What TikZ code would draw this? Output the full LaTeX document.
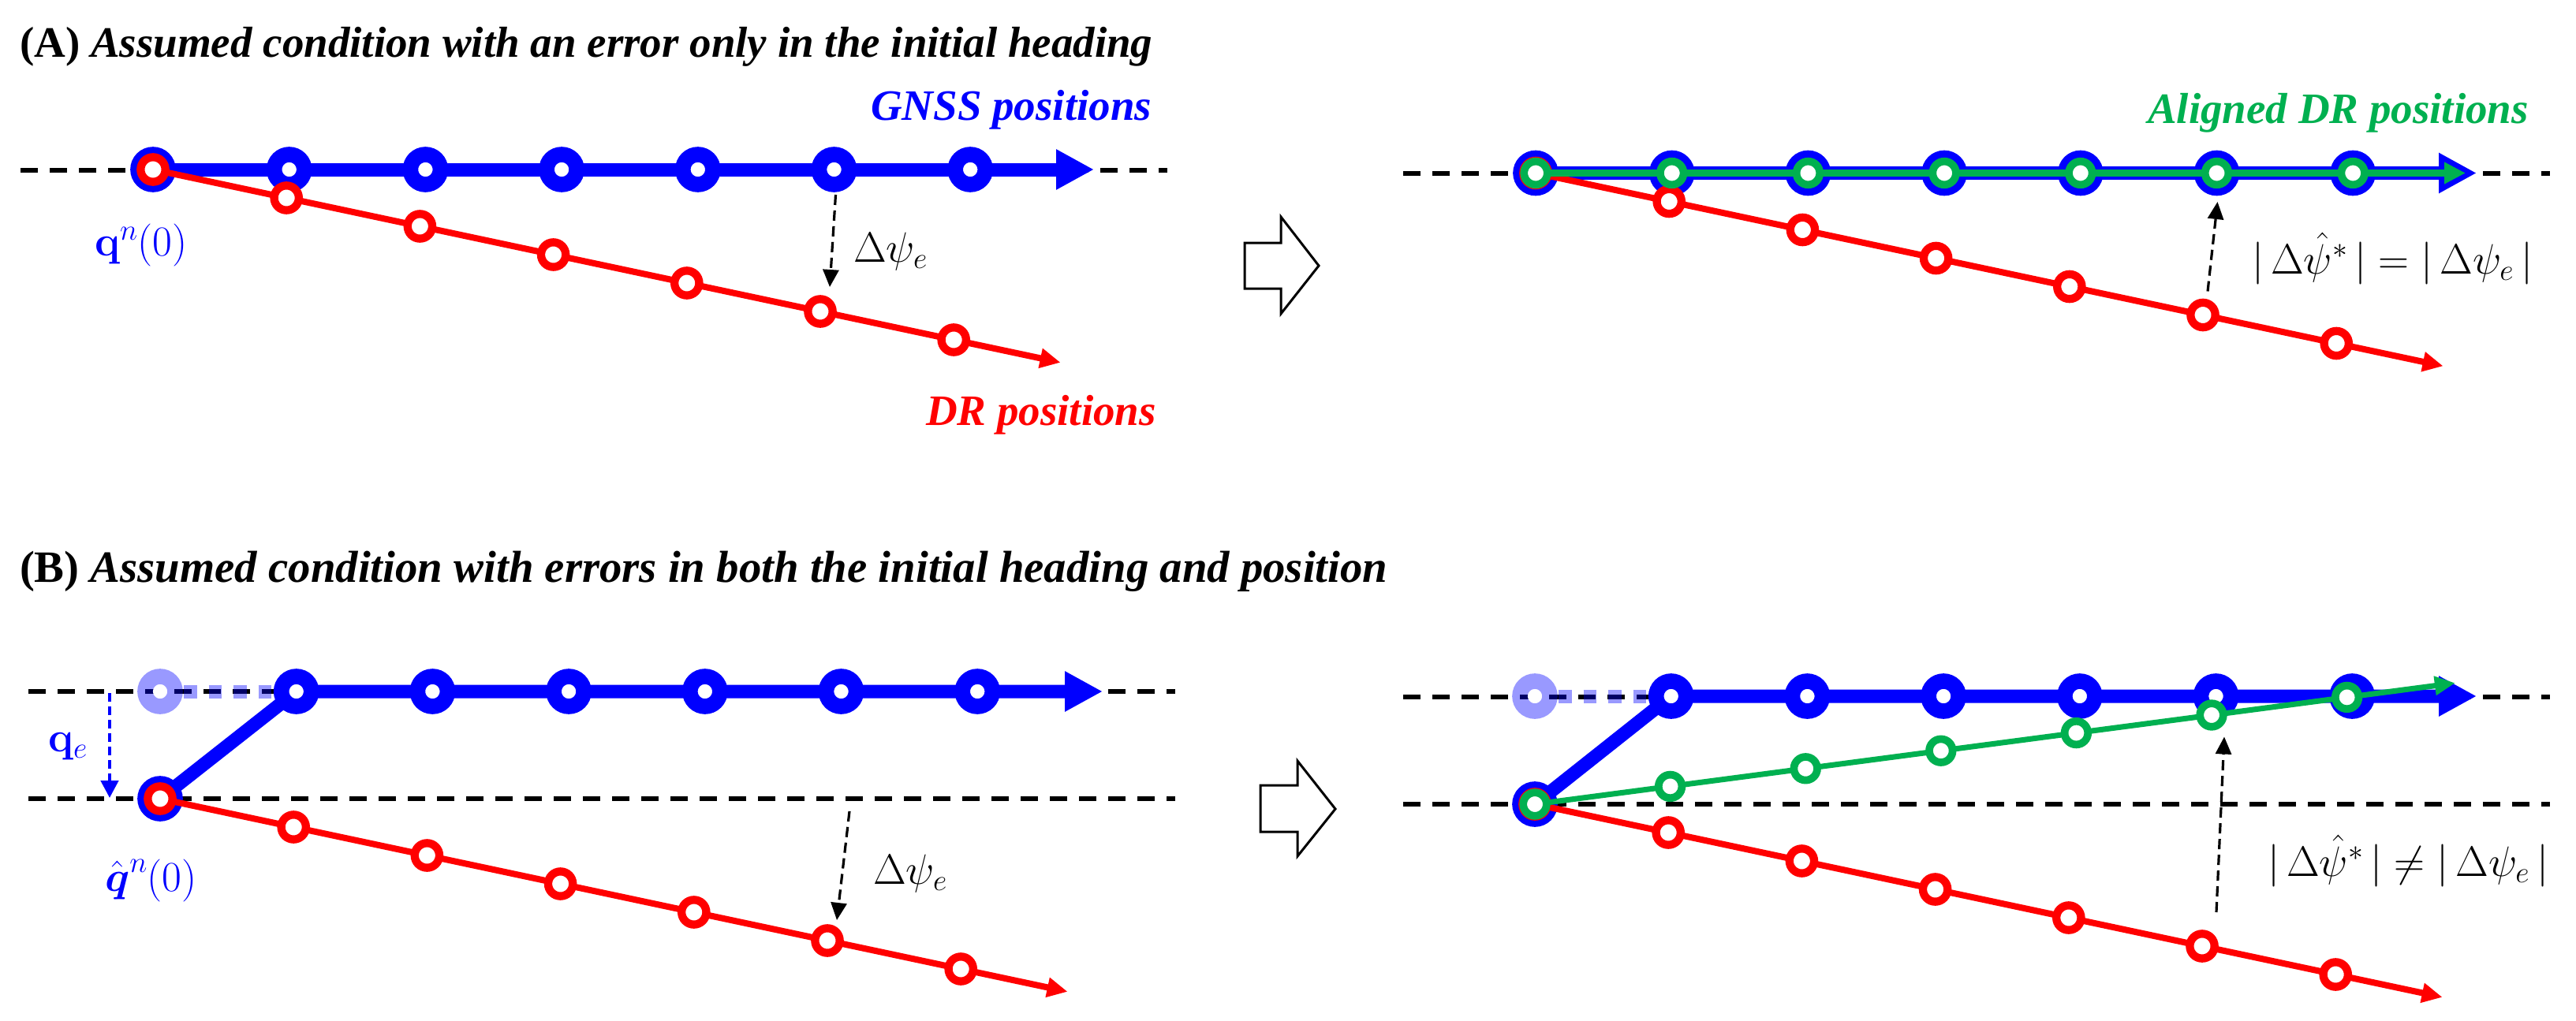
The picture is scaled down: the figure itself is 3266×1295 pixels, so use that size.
\RequirePackage{fix-cm}
\documentclass[tikz,border=0pt]{standalone}
\usepackage{amsmath}
\usepackage[no-math]{fontspec}
\setmainfont{Liberation Serif}
\usetikzlibrary{arrows.meta,calc}
\definecolor{pblue}{RGB}{0,0,255}
\definecolor{pred}{RGB}{255,0,0}
\definecolor{pgreen}{RGB}{0,176,80}
\newcommand\tfs{\fontsize{55}{60}\selectfont}
\newcommand\tfsb{\fontsize{56.8}{60}\selectfont}
\newcommand\mfs{\fontsize{54}{60}\selectfont}
\tikzset{
  guide/.style={black, line width=6pt, dash pattern=on 22pt off 15pt},
  gline/.style={pblue, line width=17pt, -{Triangle[length=48pt,width=48pt]}},
  gring/.style={circle, draw=pblue, line width=19.6pt, fill=white, minimum size=38pt, inner sep=0pt},
  fring/.style={circle, draw=pblue, draw opacity=0.4, line width=19.6pt, minimum size=38pt, inner sep=0pt,
    path picture={\fill[white] (path picture bounding box.center) circle (9.2pt);}},
  fdash/.style={pblue, opacity=0.4, line width=17pt, dash pattern=on 16.5pt off 15pt},
  rline/.style={pred, line width=8pt, -{Triangle[length=26pt,width=24pt]}},
  rring/.style={circle, draw=pred, line width=10.3pt, fill=white, minimum size=31.3pt, inner sep=0pt},
  aline/.style={pgreen, line width=9pt, -{Triangle[length=27pt,width=26pt]}},
  alineb/.style={pgreen, line width=7pt, -{Triangle[length=26pt,width=23pt]}},
  aring/.style={circle, draw=pgreen, line width=9.7pt, fill=white, minimum size=29.6pt, inner sep=0pt},
  darrow/.style={black, line width=3.2pt, dash pattern=on 13pt off 7pt, -{Triangle[length=22pt,width=20pt]}},
  qarrow/.style={pblue, line width=4.5pt, dash pattern=on 11pt off 6pt, -{Triangle[length=22pt,width=22pt]}},
  blockarrow/.style={black, line width=3pt, fill=white, line join=miter},
  lbl/.style={anchor=base west, inner sep=0pt, outer sep=0pt},
}
\begin{document}
\begin{tikzpicture}[x=1pt,y=-1pt]
\useasboundingbox (0,0) rectangle (3266,1295);
\fill[white] (0,0) rectangle (3266,1295);

% ---------------- titles ----------------
\node[lbl] (titleA) at (25,73) {\tfs\bfseries (A) \itshape Assumed condition with an error only in the initial heading};
\node[lbl] (titleB) at (25,738) {\tfsb\bfseries (B) \itshape Assumed condition with errors in both the initial heading and position};

% ---------------- coordinates ----------------
\foreach \k in {0,...,6}{
  \coordinate (LAb\k) at ({194+172.7*\k},215);
  \coordinate (LAr\k) at ({194+169.2*\k},{215+36*\k});
  \coordinate (RAb\k) at ({1947+172.7*\k},219.5);
  \coordinate (RAr\k) at ({1947+169.2*\k},{219.5+36*\k});
  \coordinate (LBr\k) at ({203+169.2*\k},{1013+36*\k});
  \coordinate (RBr\k) at ({1946+169.2*\k},{1020+36*\k});
  \coordinate (RBg\k) at ({1946+171.6*\k},{1020-22.6*\k});
}
\foreach \k in {1,...,6}{
  \coordinate (LBb\k) at ({203+172.7*\k},877);
  \coordinate (RBb\k) at ({1946+172.7*\k},883);
}
\coordinate (LBb0) at (203,1013);
\coordinate (RBb0) at (1946,1020);
\coordinate (LBf) at (203,877);
\coordinate (RBf) at (1946,883);
\coordinate (LAbt) at (1387,215);
\coordinate (LArt) at ({194+169.2*6.8},{215+36*6.8});
\coordinate (RAbt) at (3140,219.5);
\coordinate (RAgt) at (3126,219.5);
\coordinate (RArt) at ({1947+169.2*6.8},{219.5+36*6.8});
\coordinate (LBbt) at (1398,877);
\coordinate (LBrt) at ({203+169.2*6.8},{1013+36*6.8});
\coordinate (RBbt) at (3140,883);
\coordinate (RBrt) at ({1946+169.2*6.8},{1020+36*6.8});
\coordinate (RBgt) at ({1946+171.6*6.8},{1020-22.6*6.8});

% guide lines
\coordinate (gLA1) at (26,216);   \coordinate (gLA2) at (1480,216);
\coordinate (gRA1) at (1779,220); \coordinate (gRA2) at (3233,220);
\coordinate (gLB1) at (36,877);   \coordinate (gLB2) at (1490,877);
\coordinate (gLB3) at (36,1013);  \coordinate (gLB4) at (1490,1013);
\coordinate (gRB1) at (1779,884); \coordinate (gRB2) at (3233,884);
\coordinate (gRB3) at (1779,1020);\coordinate (gRB4) at (3233,1020);

% ================= Panel A left =================
\draw[guide] (gLA1) -- (gLA2);
\draw[gline] (LAb0) -- (LAbt);
\foreach \k in {0,...,6} \node[gring] (nLAb\k) at (LAb\k) {};
\draw[rline] (LAr0) -- (LArt);
\foreach \k in {0,...,6} \node[rring] (nLAr\k) at (LAr\k) {};
\draw[darrow] ($(LAb5)+(2,32)$) -- ($(LAr5)+(12,-31)$);
\node[lbl, text=pblue] (gnss) at (1104,153) {\tfs\bfseries\itshape GNSS positions};
\node[lbl, text=pred] (drA) at (1174,539) {\tfs\bfseries\itshape DR positions};
\node[lbl, text=pblue] (q0) at (120,324) {\mfs$\mathbf{q}^{n}(0)$};
\node[lbl] (dpsiA) at (1082,332) {\mfs$\Delta\psi_{e}$};

% block arrows
\draw[blockarrow] (1578,308) -- (1624,308) -- (1624,275) -- (1672,337) -- (1624,398) -- (1624,366) -- (1578,366) -- cycle;
\draw[blockarrow] (1598,996) -- (1645,996) -- (1645,965) -- (1693,1026) -- (1645,1086) -- (1645,1055) -- (1598,1055) -- cycle;

% ================= Panel A right =================
\draw[guide] (gRA1) -- (gRA2);
\draw[gline] (RAb0) -- (RAbt);
\foreach \k in {0,...,6} \node[gring] (nRAb\k) at (RAb\k) {};
\draw[rline] (RAr0) -- (RArt);
\foreach \k in {0,...,6} \node[rring] (nRAr\k) at (RAr\k) {};
\draw[aline] (RAb0) -- (RAgt);
\foreach \k in {0,...,6} \node[aring] (nRAg\k) at (RAb\k) {};
\draw[darrow] ($(RAr5)+(6,-30)$) -- ($(RAb5)+(1,36.5)$);
\node[lbl, text=pgreen] (aligned) at (2723,157) {\tfs\bfseries\itshape Aligned DR positions};
\node[lbl] (eqA) at (2855,347) {\mfs$|\,\Delta\hat{\psi}^{*}\,| = |\,\Delta\psi_{e}\,|$};

% ================= Panel B left =================
\draw[guide] (gLB1) -- (gLB2);
\draw[guide] (gLB3) -- (gLB4);
\node[fring] (nLBf) at (LBf) {};
\draw[fdash, shorten <=30pt, shorten >=29pt] (LBf) -- (LBb1);
\draw[gline] (LBb0) -- (LBb1) -- (LBbt);
\foreach \k in {0,...,6} \node[gring] (nLBb\k) at (LBb\k) {};
\draw[rline] (LBr0) -- (LBrt);
\foreach \k in {0,...,6} \node[rring] (nLBr\k) at (LBr\k) {};
\coordinate (LBqa) at (139,879);
\coordinate (LBqb) at (139,1012);
\draw[qarrow] (LBqa) -- (LBqb);
\coordinate (LBpsi) at (1077,1029);
\draw[darrow] (LBpsi) -- ($(LBr5)+(12,-26)$);
\node[lbl, text=pblue] (qe) at (61,953) {\mfs$\mathbf{q}_{e}$};
\node[lbl, text=pblue] (qhat) at (133,1130) {\mfs$\hat{\boldsymbol{q}}^{n}(0)$};
\node[lbl] (dpsiB) at (1107,1121) {\mfs$\Delta\psi_{e}$};

% ================= Panel B right =================
\draw[guide] (gRB1) -- (gRB2);
\draw[guide] (gRB3) -- (gRB4);
\node[fring] (nRBf) at (RBf) {};
\draw[fdash, shorten <=30pt, shorten >=29pt] (RBf) -- (RBb1);
\draw[gline] (RBb0) -- (RBb1) -- (RBbt);
\foreach \k in {0,...,6} \node[gring] (nRBb\k) at (RBb\k) {};
\draw[rline] (RBr0) -- (RBrt);
\foreach \k in {0,...,6} \node[rring] (nRBr\k) at (RBr\k) {};
\draw[alineb] (RBg0) -- (RBgt);
\foreach \k in {0,...,6} \node[aring] (nRBg\k) at (RBg\k) {};
\draw[darrow] ($(RBr5)+(18,-43)$) -- ($(RBg5)+(16,27.5)$);
\node[lbl] (eqB) at (2875,1111) {\mfs$|\,\Delta\hat{\psi}^{*}\,| \neq |\,\Delta\psi_{e}\,|$};
\end{tikzpicture}
\end{document}
